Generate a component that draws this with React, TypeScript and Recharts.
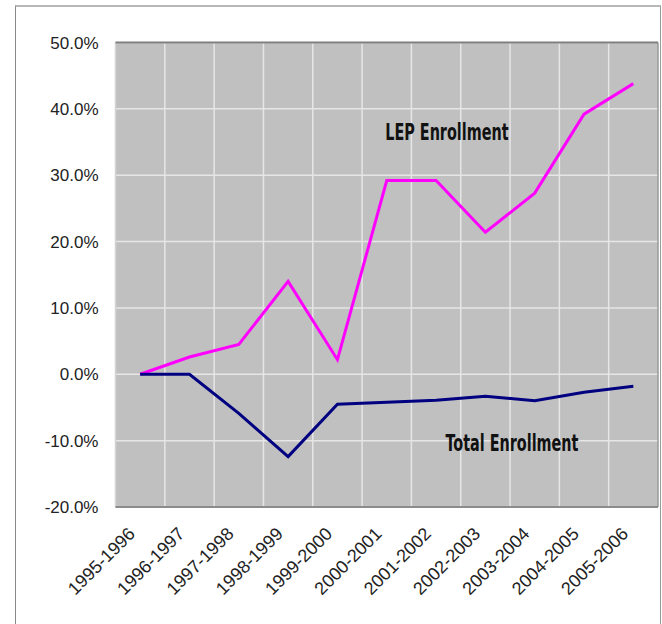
import React from "react";
import {
  LineChart,
  Line,
  XAxis,
  YAxis,
  CartesianGrid,
  ReferenceLine,
  ReferenceDot,
} from "recharts";

const categories = [
  "1995-1996",
  "1996-1997",
  "1997-1998",
  "1998-1999",
  "1999-2000",
  "2000-2001",
  "2001-2002",
  "2002-2003",
  "2003-2004",
  "2004-2005",
  "2005-2006",
];
const lepEnrollment = [0, 2.6, 4.5, 14.0, 2.2, 29.2, 29.2, 21.4, 27.3, 39.2, 43.8];
const totalEnrollment = [0, 0, -5.9, -12.4, -4.5, -4.2, -3.9, -3.3, -4.0, -2.7, -1.8];
const yTicks = [-20, -10, 0, 10, 20, 30, 40, 50];
const seriesLabels = [
  { text: "LEP Enrollment", x: 6.22, y: 36.5 },
  { text: "Total Enrollment", x: 7.54, y: -10.4 },
];

const data = categories.map((c, i) => ({
  idx: i,
  name: c,
  lep: lepEnrollment[i],
  total: totalEnrollment[i],
}));
const xTicks = categories.map((_, i) => i);
const boundaries = categories.slice(0, -1).map((_, i) => i + 0.5);

const XTick = (props: any) => {
  const { x, y, payload } = props;
  return (
    <g transform={`translate(${x - 4},${y + 28})`}>
      <text
        x={0}
        y={0}
        textAnchor="end"
        transform="rotate(-45)"
        fontFamily="'Liberation Sans', Arial, sans-serif"
        fontSize={18}
        fill="#222"
      >
        {categories[payload.value]}
      </text>
    </g>
  );
};

const makeLabelShape = (text: string) => (p: any) => (
  <g transform={`translate(${p.cx},${p.cy}) scale(1,1.4)`}>
    <text
      x={0}
      y={0}
      textAnchor="middle"
      dominantBaseline="central"
      fontFamily="'DejaVu Sans Condensed', 'DejaVu Sans', sans-serif"
      fontWeight="bold"
      fontSize={16}
      fill="#111"
    >
      {text}
    </text>
  </g>
);

export default function App() {
  return (
    <div style={{ position: "absolute", left: 0, top: 0, width: 662, height: 624, background: "#fff" }}>
      <div
        style={{
          position: "absolute",
          left: 15,
          top: 5,
          width: 644,
          height: 640,
          borderLeft: "1px solid #8a8a8a",
          borderTop: "2px solid #b8b8b8",
          borderRight: "1px solid #9a9a9a",
        }}
      />
      <div style={{ position: "absolute", left: 0, top: 0 }}>
        <LineChart
          width={662}
          height={624}
          data={data}
          margin={{ top: 42.5, right: 4, bottom: 27, left: 15.5 }}
        >
          <CartesianGrid
            fill="#c0c0c0"
            stroke="#e6e6e6"
            strokeWidth={1.5}
            vertical={false}
          />
          {boundaries.map((b) => (
            <ReferenceLine key={b} x={b} stroke="#e6e6e6" strokeWidth={1.5} />
          ))}
          <ReferenceLine x={-0.5} stroke="#d4d4d4" strokeWidth={1.5} />
          <ReferenceLine x={10.5} stroke="#9a9a9a" strokeWidth={1.5} />
          <ReferenceLine y={50} stroke="#808080" strokeWidth={2} />
          <XAxis
            dataKey="idx"
            type="number"
            domain={[-0.5, 10.5]}
            ticks={xTicks}
            interval={0}
            height={90}
            tickLine={false}
            tickSize={0}
            tickMargin={0}
            axisLine={{ stroke: "#8c8c8c", strokeWidth: 2 }}
            tick={<XTick />}
          />
          <YAxis
            type="number"
            domain={[-20, 50]}
            ticks={yTicks}
            width={100}
            axisLine={false}
            tickLine={false}
            tickSize={0}
            tickMargin={17}
            tickFormatter={(v: number) => `${v.toFixed(1)}%`}
            tick={{
              fontFamily: "'Liberation Sans', Arial, sans-serif",
              fontSize: 17,
              fill: "#222",
            }}
          />
          <Line
            type="linear"
            dataKey="lep"
            stroke="#ff00ff"
            strokeWidth={3}
            dot={false}
            isAnimationActive={false}
          />
          <Line
            type="linear"
            dataKey="total"
            stroke="#000080"
            strokeWidth={3}
            dot={false}
            isAnimationActive={false}
          />
          {seriesLabels.map((l) => (
            <ReferenceDot
              key={l.text}
              x={l.x}
              y={l.y}
              r={1}
              shape={makeLabelShape(l.text)}
            />
          ))}
        </LineChart>
      </div>
    </div>
  );
}
